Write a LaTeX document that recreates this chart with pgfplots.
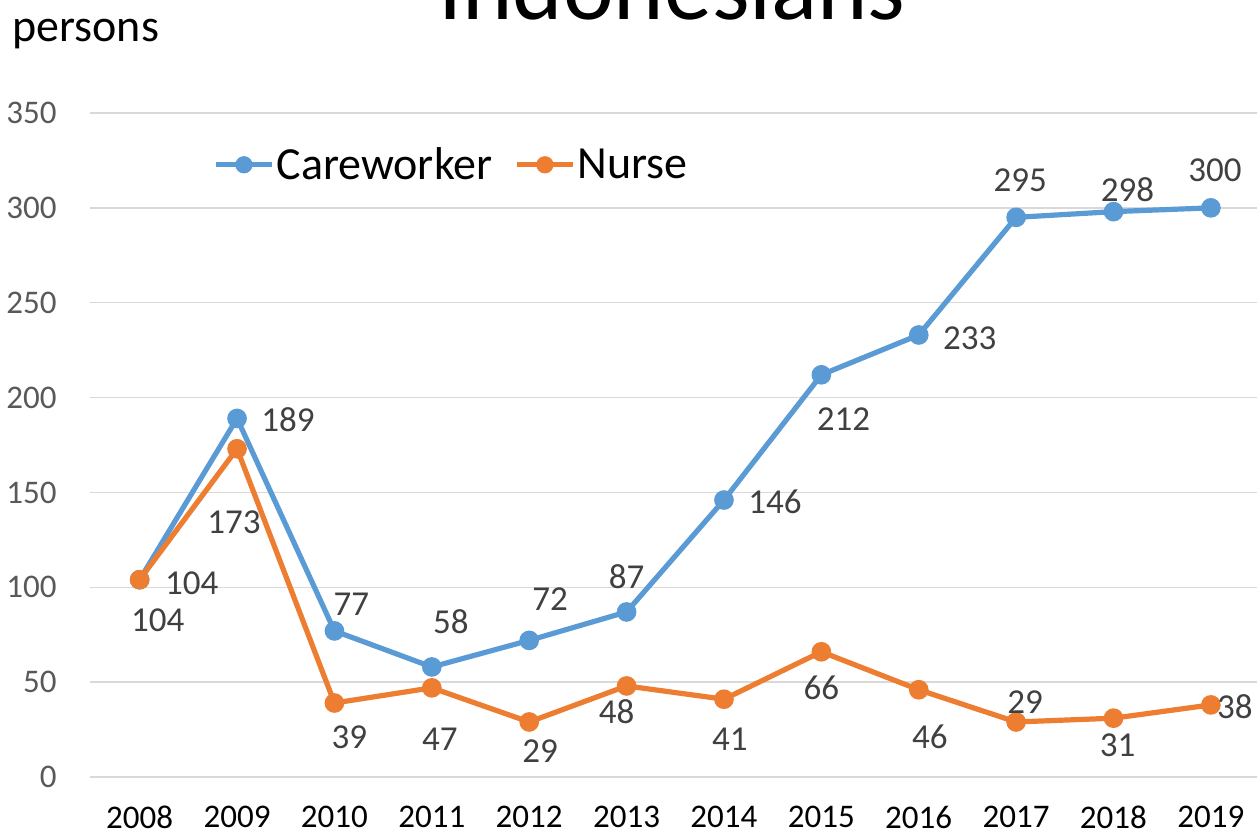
\documentclass[border=0pt]{standalone}
\usepackage{fontspec}
\setmainfont{Carlito}
\usepackage{pgfplots}
\usepackage{pgfplotstable}
\pgfplotsset{compat=1.18}
\pgfkeys{/pgf/number format/assume math mode=true}

\definecolor{careblue}{HTML}{5B9BD5}
\definecolor{nurseorange}{HTML}{ED7D31}
\definecolor{lbl}{HTML}{404040}
\definecolor{tck}{HTML}{595959}
\definecolor{grd}{HTML}{D9D9D9}

% year, value, label offset (pt)
\pgfplotstableread{
year val lx ly
2008 104 26 -2
2009 189 25.5 -0.5
2010 77 8.5 13.5
2011 58 9.5 22.5
2012 72 10.5 20.5
2013 87 0 17.5
2014 146 25.5 -1
2015 212 11 -22
2016 233 25.5 -1.5
2017 295 2 18.5
2018 298 7 11
2019 300 2 19
}\care

\pgfplotstableread{
year val lx ly
2008 104 9 -20.5
2009 173 -1.5 -36.5
2010 39 7.5 -17
2011 47 4 -25.5
2012 29 5.5 -14.5
2013 48 -5 -13
2014 41 3 -20
2015 66 0 -18
2016 46 5.5 -23.5
2017 29 4.5 10
2018 31 2 -13.5
2019 38 12 -1
}\nurse

\begin{document}
\begin{tikzpicture}
\begin{axis}[
  at={(0pt,0pt)}, anchor=south west,
  scale only axis, width=584.8pt, height=332pt,
  xmin=2007.49, xmax=2019.5, ymin=0, ymax=350,
  xtick={2008,...,2019}, ytick={0,50,...,350},
  xticklabel={\pgfmathprintnumber[1000 sep={}]{\tick}},
  axis line style={draw=none}, major tick length=0pt,
  ymajorgrids, major grid style={draw=grd, line width=0.75pt},
  ticklabel style={font=\fontsize{16.5}{19}\selectfont},
  yticklabel style={anchor=east, inner sep=0pt, xshift=-16.5pt, text=tck},
  xticklabel style={anchor=center, yshift=-20pt, text=black},
  clip=false,
  legend style={at={(0.1,0.922)}, anchor=west, draw=none, fill=none,
    font=\fontsize{23}{26}\selectfont, legend columns=2,
    nodes={inner sep=1pt},
    /tikz/every even column/.append style={column sep=10pt}},
  legend image code/.code={\draw[#1, mark repeat=2, mark phase=2, mark size=3pt] plot coordinates {(0pt,0pt) (14pt,0pt) (28pt,0pt)};},
  visualization depends on={\thisrow{lx} \as \lx},
  visualization depends on={\thisrow{ly} \as \ly},
  nodes near coords,
  every node near coord/.append style={font=\fontsize{17.5}{20}\selectfont, text=lbl,
    anchor=center, inner sep=0pt, xshift=\lx pt, yshift=\ly pt},
]
\addplot[careblue, line width=2.6pt, mark=*, mark size=3.6pt] table[x=year, y=val] {\care};
\addlegendentry{Careworker}
\addplot[nurseorange, line width=2.6pt, mark=*, mark size=3.6pt] table[x=year, y=val] {\nurse};
\addlegendentry{Nurse}
\end{axis}
\node[anchor=base, font=\fontsize{48}{56}\selectfont] at (291pt,378.5pt) {Indonesians};
\node[anchor=base west, inner sep=0pt, font=\fontsize{23}{26}\selectfont] at (-39pt,367.5pt) {persons};
\pgfresetboundingbox
\useasboundingbox (-45pt,-28.5pt) rectangle (583.5pt,388.5pt);
\end{tikzpicture}
\end{document}
